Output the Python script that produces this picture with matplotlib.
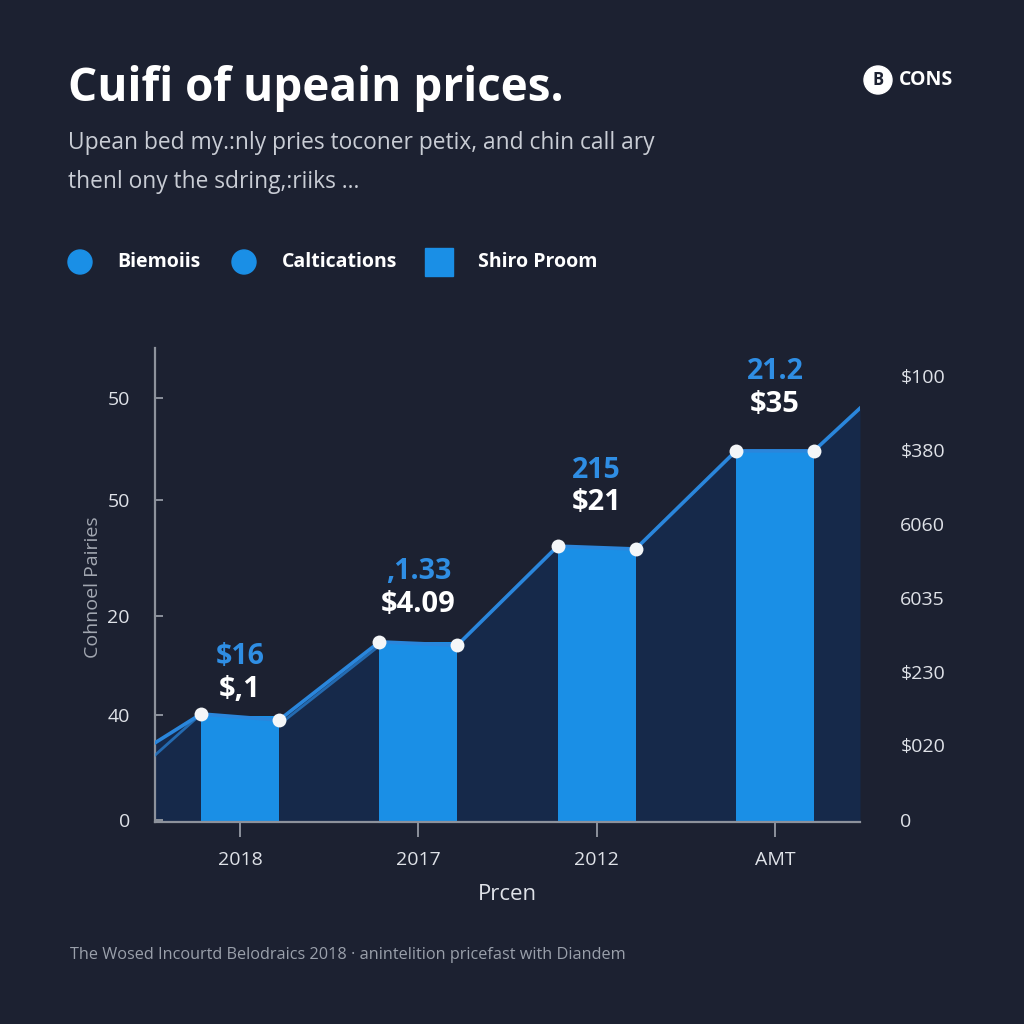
import matplotlib
matplotlib.use("Agg")
import matplotlib.pyplot as plt
from matplotlib.patches import Circle, Rectangle
import numpy as np

# ---------------- data ----------------
categories = ["2018", "2017", "2012", "AMT"]
bar_values = [22.4, 38.0, 58.0, 78.3]
# line passes through left and right top corner of each bar
line_left = [22.8, 38.0, 58.2, 78.3]
line_right = [21.5, 37.3, 57.6, 78.3]
line_start = 16.7
line_start_shadow = 14.1
line_end = 87.3
top_labels = ["$16", ",1.33", "215", "21.2"]
value_labels = ["$,1", "$4.09", "$21", "$35"]
left_tick_pos = [89.5, 67.9, 43.5, 22.6, 0.4]
left_tick_labels = ["50", "50", "20", "40", "0"]
right_tick_pos = [94.1, 78.5, 62.9, 47.3, 31.6, 16.2, 0.4]
right_tick_labels = ["$100", "$380", "6060", "6035", "$230", "$020", "0"]
legend_labels = ["Biemoiis", "Caltications", "Shiro Proom"]

title = "Cuifi of upeain prices."
subtitle1 = "Upean bed my.:nly pries toconer petix, and chin call ary"
subtitle2 = "thenl ony the sdring,:riiks ..."
ylabel = "Cohnoel Pairies"
xlabel = "Prcen"
footer = "The Wosed Incourtd Belodraics 2018 · anintelition pricefast with Diandem"
logo_text = "CONS"

# ---------------- style ----------------
BG = "#1c2131"
FILL = "#16294a"
BAR = "#1a8fe6"
LINE = "#2a86dc"
BLUE_TXT = "#2f8ee4"
WHITE = "#ffffff"
GRAY = "#c9cdd5"
AXIS = "#8d929c"
FONT = ["Open Sans", "DejaVu Sans"]
plt.rcParams["font.family"] = FONT

# label offsets above bar tops (pixels)
white_off = [26, 37, 45, 46]
blue_off = [59, 70, 77, 79]

W = 1024
fig = plt.figure(figsize=(10.24, 10.24), dpi=100, facecolor=BG)

def fx(px):
    return px / W

def fy(py):
    return 1 - py / W

# axes
ax = fig.add_axes([fx(155), fy(822), fx(705), 474 / W])
ax.set_facecolor(BG)
x = np.arange(len(categories))
bw = 0.437
xmin, xmax = -0.477, 3.477
ax.set_xlim(xmin, xmax)
ax.set_ylim(0, 100)

# line path
lx = [xmin]
ly = [line_start]
for i in range(len(categories)):
    lx += [x[i] - bw / 2, x[i] + bw / 2]
    ly += [line_left[i], line_right[i]]
lx.append(xmax)
ly.append(line_end)

ax.fill_between(lx, 0, ly, color=FILL, zorder=1, linewidth=0)
ax.bar(x, bar_values, width=bw, color=BAR, zorder=2, linewidth=0)
# faint double line on left segments
ax.plot([xmin, x[0] - bw / 2], [line_start_shadow, line_left[0]], color=LINE, lw=2, alpha=0.7, zorder=3)
ax.plot([x[0] + bw / 2, x[1] - bw / 2], [line_right[0] - 1.0, line_left[1] - 0.8], color=LINE, lw=2, alpha=0.7, zorder=3)
ax.plot(lx, ly, color=LINE, lw=2.6, zorder=4)
mx = lx[1:-1]
my = ly[1:-1]
ax.plot(mx, my, "o", color="#f4f6f8", markersize=10, markeredgewidth=0, zorder=5)

for i in range(len(categories)):
    ax.annotate(value_labels[i], (x[i], bar_values[i]), xytext=(0, white_off[i] * 0.72), textcoords="offset points",
                ha="center", va="center", color=WHITE, fontsize=21, fontweight="bold", zorder=6)
    ax.annotate(top_labels[i], (x[i], bar_values[i]), xytext=(0, blue_off[i] * 0.72), textcoords="offset points",
                ha="center", va="center", color=BLUE_TXT, fontsize=20.5, fontweight="bold", zorder=6)

# spines / ticks
for s in ["top", "right"]:
    ax.spines[s].set_visible(False)
for s in ["left", "bottom"]:
    ax.spines[s].set_color(AXIS)
    ax.spines[s].set_linewidth(1.6)
ax.set_xticks(x)
ax.set_xticklabels(categories)
ax.tick_params(axis="x", direction="out", length=11, width=1.4, color=AXIS, labelcolor="#dfe2e8",
               labelsize=14, pad=10)
ax.set_yticks(left_tick_pos)
ax.set_yticklabels(left_tick_labels)
ax.tick_params(axis="y", direction="in", length=6, width=1.4, color=AXIS, labelcolor="#dfe2e8",
               labelsize=14, pad=18)
ax.set_xlabel(xlabel, color="#dfe2e8", fontsize=16, labelpad=11)

ax2 = ax.twinx()
ax2.set_ylim(0, 100)
for s in ax2.spines.values():
    s.set_visible(False)
ax2.set_yticks(right_tick_pos)
ax2.set_yticklabels(right_tick_labels)
ax2.tick_params(axis="y", length=0, labelcolor="#dfe2e8", labelsize=14, pad=29)

fig.text(fx(93), fy(587), ylabel, rotation=90, ha="center", va="center", color="#a3a8b2", fontsize=14)

# title block
fig.text(fx(68), fy(88), title, ha="left", va="center", color=WHITE, fontsize=33, fontweight="bold")
fig.text(fx(68), fy(143), subtitle1, ha="left", va="center", color=GRAY, fontsize=16.4)
fig.text(fx(68), fy(182), subtitle2, ha="left", va="center", color=GRAY, fontsize=16.4)

# logo
fig.patches.append(Circle((fx(878), fy(80)), 14 / W, transform=fig.transFigure, color=WHITE))
fig.text(fx(878), fy(80), "B", ha="center", va="center", color=BG, fontsize=12, fontweight="bold")
fig.text(fx(899), fy(80), logo_text, ha="left", va="center", color=WHITE, fontsize=14, fontweight="bold")

# legend
fig.patches.append(Circle((fx(80), fy(262)), 12 / W, transform=fig.transFigure, color=BAR))
fig.text(fx(117), fy(262), legend_labels[0], ha="left", va="center", color=WHITE, fontsize=14, fontweight="bold")
fig.patches.append(Circle((fx(244), fy(262)), 12 / W, transform=fig.transFigure, color=BAR))
fig.text(fx(282), fy(262), legend_labels[1], ha="left", va="center", color=WHITE, fontsize=14, fontweight="bold")
fig.patches.append(Rectangle((fx(425), fy(276)), 28 / W, 28 / W, transform=fig.transFigure, color=BAR))
fig.text(fx(478), fy(262), legend_labels[2], ha="left", va="center", color=WHITE, fontsize=14, fontweight="bold")

# footer
fig.text(fx(70), fy(955), footer, ha="left", va="center", color="#9aa0ab", fontsize=11.7)

fig.savefig("out.png", dpi=100, facecolor=BG)
